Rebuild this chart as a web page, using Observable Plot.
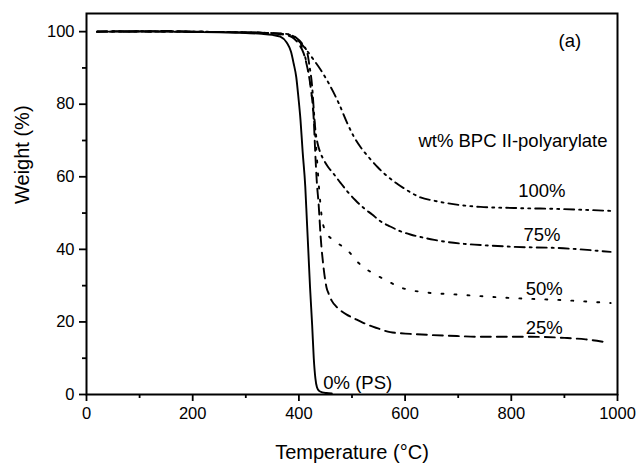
<!DOCTYPE html>
<html><head><meta charset="utf-8">
<script src="https://cdn.jsdelivr.net/npm/d3@7"></script>
<script src="https://cdn.jsdelivr.net/npm/@observablehq/plot@0.6"></script>
<style>body{margin:0;background:#fff;}</style>
</head><body><div id="chart"></div>
<script>
// Temperature (°C) and weight (%) per sample
const t0 = [20,60,100,150,200,250,300,330,350,365,377,385,390,395,399,403,407,412,415,418,421,425,428,431,434,438,444,452,462];
const w0 = [100,100,100.1,100,99.9,99.8,99.6,99.4,99.1,98.6,97,94.5,91.3,87.5,82,75.7,67,57.3,48,38.8,29.5,19,10,4.5,2,1,0.6,0.4,0.3];

const t25 = [20,60,100,150,200,250,300,330,350,365,378,390,400,409,416,422,428,431,434,437,441,447,452,456,462,470,478,490,505,522,545,572,610,648,700,742,800,836,900,940,974];
const w25 = [100,100.1,100,100.2,100,99.9,99.8,99.7,99.5,99.3,99,98.2,96.5,94,90,84.8,75.7,66,58,52.8,43.4,34.3,29.5,27.8,25.8,24.3,23.2,22,20.9,19.7,18.4,17.2,16.7,16.4,16.1,15.9,15.9,15.9,15.6,15.2,14.5];

const t50 = [20,60,100,150,200,250,300,330,350,365,380,395,405,415,423,429,434,439,444,452,465,478,491,512,538,563,588,629,704,798,898,987];
const w50 = [100,100,100.1,100,100,99.9,99.8,99.7,99.5,99.3,99,98,96,91,84,75,65,55,48,44.5,42.6,41.2,39.8,36.3,33.5,31.6,29.7,28.3,27.5,26.6,26,25.2];

const t75 = [20,60,100,150,200,250,300,330,350,365,380,395,407,416,420,425,428,431,435,440,447,455,465,478,491,506,522,538,553,572,591,610,629,655,680,742,805,898,987];
const w75 = [100,100.1,100,100.1,100,99.9,99.8,99.7,99.6,99.4,99.2,98.3,96.5,94,90.5,84.8,78.5,73,69.3,66.8,64.6,62.7,60.9,58.4,56,53.6,51.4,49.6,47.8,46.3,45,44.1,43.4,42.6,42,41.2,40.7,40.3,39.3];

const t100 = [20,60,100,150,200,250,300,330,350,365,380,392,403,415,428,440,453,464,475,491,503,516,532,548,566,585,607,629,655,680,742,805,898,987];
const w100 = [100,100,100.1,100,100,99.9,99.8,99.7,99.6,99.5,99.3,98.5,96.9,94.8,92.2,89.7,86.6,83.6,80.3,74.8,71.2,68.2,65.3,62.7,60.2,58.1,56,54.3,53.4,52.7,51.7,51.4,51.1,50.6];

// Annotations
const labelText = ["(a)", "wt% BPC II-polyarylate", "100%", "75%", "50%", "25%", "0% (PS)"];
const labelX = [889, 625, 813, 823, 827, 827, 446];
const labelY = [95.9, 68.2, 54.3, 42.2, 27.3, 16.8, 1.4];

const xMajor = [0, 200, 400, 600, 800, 1000];
const xMinor = [100, 300, 500, 700, 900];
const yMajor = [0, 20, 40, 60, 80, 100];
const yMinor = [10, 30, 50, 70, 90];

const rows = (t, w) => t.map((x, i) => ({x, y: w[i]}));
const labels = labelText.map((text, i) => ({text, x: labelX[i], y: labelY[i]}));

const lineOpts = {x: "x", y: "y", stroke: "black", curve: "monotone-x", strokeWidth: 1.9};

const chart = Plot.plot({
  width: 637,
  height: 463,
  marginLeft: 86,
  marginRight: 20,
  marginTop: 13,
  marginBottom: 69,
  style: {fontFamily: "'Liberation Sans', Arial, sans-serif", fontSize: "16.5px", color: "black", background: "white"},
  x: {domain: [0, 1000]},
  y: {domain: [0, 105]},
  marks: [
    Plot.line(rows(t0, w0), {...lineOpts}),
    Plot.line(rows(t25, w25), {...lineOpts, strokeDasharray: "10,6"}),
    Plot.line(rows(t50, w50), {...lineOpts, strokeDasharray: "2,11"}),
    Plot.line(rows(t75, w75), {...lineOpts, strokeDasharray: "10,5,2,5"}),
    Plot.line(rows(t100, w100), {...lineOpts, strokeDasharray: "10,5,2,5,2,5"}),
    Plot.frame({stroke: "black", strokeWidth: 2}),
    Plot.axisX(xMajor, {tickSize: 7, tickPadding: 6, strokeWidth: 1.8, fontSize: 16.5, tickFormat: d => String(d), label: null}),
    Plot.axisX(xMinor, {tickSize: 4, strokeWidth: 1.8, tickFormat: () => "", label: null}),
    Plot.axisY(yMajor, {tickSize: 7, tickPadding: 5, strokeWidth: 1.8, fontSize: 16.5, tickFormat: d => String(d), label: null}),
    Plot.axisY(yMinor, {tickSize: 4, strokeWidth: 1.8, tickFormat: () => "", label: null}),
    Plot.text(labels, {x: "x", y: "y", text: "text", fontSize: 18.5, textAnchor: "start", lineAnchor: "bottom", fill: "black"}),
    Plot.text(["(a)"].slice(0, 0), {x: 0, y: 0}),
    Plot.text(["Temperature (°C)"], {frameAnchor: "bottom", dy: 64, text: d => d, fontSize: 20, lineAnchor: "bottom", fill: "black"}),
    Plot.text(["Weight (%)"], {frameAnchor: "left", dx: -64, rotate: -90, text: d => d, fontSize: 20, fill: "black"})
  ]
});
document.getElementById("chart").append(chart);
</script>
</body></html>
